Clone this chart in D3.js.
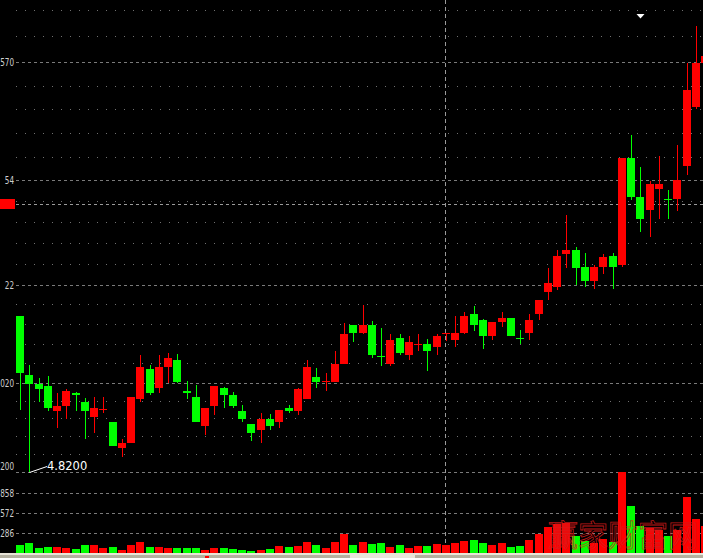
<!DOCTYPE html>
<html><head><meta charset="utf-8">
<script src="https://cdn.jsdelivr.net/npm/d3@7"></script>
<style>html,body{margin:0;padding:0;background:#000;overflow:hidden}</style>
</head><body><svg id="c" width="703" height="558"></svg>
<script>
// ---- data ----
const opens  = [5.138,5.018,5.000,4.996,4.944,4.955,4.981,4.963,4.932,4.947,4.922,4.869,4.879,4.969,5.030,4.991,5.034,5.049,4.985,4.973,4.914,4.955,4.991,4.977,4.944,4.918,4.906,4.928,4.922,4.951,4.944,4.969,5.014,5.004,5.004,5.040,5.120,5.104,5.120,5.057,5.040,5.093,5.059,5.081,5.081,5.075,5.102,5.089,5.104,5.142,5.130,5.098,5.126,5.134,5.093,5.104,5.142,5.187,5.198,5.265,5.273,5.238,5.210,5.238,5.261,5.242,5.461,5.381,5.355,5.398,5.377,5.377,5.445,5.565,5.655];
const highs  = [5.138,5.038,5.012,5.016,4.981,4.989,4.983,4.971,4.973,4.973,4.922,4.887,4.973,5.059,5.038,5.059,5.063,5.061,5.006,4.998,4.951,4.996,4.994,4.983,4.957,4.918,4.940,4.938,4.947,4.957,4.991,5.049,5.032,5.022,5.067,5.124,5.120,5.161,5.128,5.114,5.102,5.102,5.098,5.102,5.091,5.102,5.103,5.138,5.147,5.159,5.132,5.126,5.147,5.134,5.110,5.142,5.171,5.236,5.273,5.344,5.279,5.267,5.242,5.265,5.267,5.461,5.508,5.442,5.414,5.465,5.396,5.487,5.655,5.730,5.669];
const lows   = [4.947,4.820,4.963,4.944,4.910,4.928,4.944,4.887,4.900,4.940,4.873,4.851,4.879,4.963,4.977,4.981,5.002,5.002,4.969,4.922,4.896,4.936,4.951,4.951,4.922,4.883,4.879,4.906,4.910,4.940,4.936,4.969,4.991,4.985,5.004,5.040,5.085,5.102,5.053,5.036,5.036,5.059,5.049,5.067,5.026,5.059,5.087,5.075,5.102,5.108,5.071,5.089,5.116,5.098,5.081,5.089,5.130,5.171,5.191,5.236,5.202,5.198,5.193,5.224,5.193,5.238,5.375,5.310,5.300,5.336,5.336,5.353,5.426,5.561,5.655];
const closes = [5.022,5.000,4.989,4.951,4.955,4.985,4.977,4.944,4.951,4.948,4.873,4.879,4.973,5.034,4.981,5.034,5.053,5.004,4.981,4.922,4.951,4.996,4.977,4.955,4.928,4.900,4.928,4.914,4.947,4.944,4.989,5.034,5.004,5.005,5.040,5.102,5.104,5.120,5.059,5.056,5.089,5.063,5.085,5.082,5.067,5.098,5.103,5.104,5.138,5.120,5.098,5.126,5.134,5.098,5.091,5.130,5.171,5.206,5.261,5.273,5.236,5.210,5.238,5.259,5.238,5.461,5.381,5.336,5.408,5.408,5.376,5.416,5.600,5.655,5.669];
const volumes = [114,143,72,86,86,72,57,114,114,72,86,43,114,157,86,86,72,72,72,72,43,72,72,57,43,29,43,57,100,86,100,157,114,72,157,272,114,157,129,143,86,114,72,100,100,129,114,143,172,186,143,114,143,86,100,186,272,372,415,429,243,172,143,200,157,1158,672,386,357,329,243,329,801,486,386];
const days = opens.map((_, i) => "D" + (i + 1));
const priceTicks  = [4.8200, 5.0020, 5.2022, 5.4154, 5.6570, 5.9220];
// tick labels as far as the window edge lets them be seen
const priceTickLabels = ["200", "020", "22", "54", "570", ""];
const volumeTicks = [286, 572, 858];
const volumeTickLabels = ["286", "572", "858"];
const crossIndex = 46, crossPrice = 5.367;
const markerIndex = 67;
const watermark = "赢家财富网";

// ---- drawing ----
const W = 703, H = 558;
const svg = d3.select('#c').attr('shape-rendering', 'crispEdges');
svg.append('rect').attr('width', W).attr('height', H).attr('fill', '#000');

const N = opens.length;
const x = d3.scaleLinear().domain([0, N - 1]).range([16, 16 + 9.26 * (N - 1)]);
const y = d3.scaleLinear().domain([4.82, 5.7833]).range([472, 0]);
const yv = d3.scaleLinear().domain([0, 1144]).range([553, 473]);
const bx = i => Math.round(x(i));
const up = i => closes[i] >= opens[i];
const col = i => up(i) ? '#ff0000' : '#00ff00';

// minor dotted gridlines: 5 subdivisions of every major interval
const minors = [];
for (let k = 0; k < priceTicks.length - 1; k++) {
  const a = priceTicks[k], b = priceTicks[k + 1];
  for (let j = 1; j < 5; j++) minors.push(a + (b - a) * j / 5);
}
const grid = svg.append('g');
grid.selectAll('.mn').data(minors.filter(v => y(v) > 0)).join('line')
  .attr('x1', 16).attr('x2', W)
  .attr('y1', v => Math.round(y(v)) + 0.5).attr('y2', v => Math.round(y(v)) + 0.5)
  .attr('stroke', '#707070').attr('stroke-dasharray', '1,8');
grid.selectAll('.mj').data(priceTicks.filter(v => y(v) > 0)).join('line')
  .attr('x1', 16).attr('x2', W)
  .attr('y1', v => Math.round(y(v)) + 0.5).attr('y2', v => Math.round(y(v)) + 0.5)
  .attr('stroke', '#7a7a7a').attr('stroke-dasharray', '3,3');
grid.selectAll('.vj').data(volumeTicks).join('line')
  .attr('x1', 16).attr('x2', W)
  .attr('y1', v => Math.round(yv(v)) + 0.5).attr('y2', v => Math.round(yv(v)) + 0.5)
  .attr('stroke', '#7a7a7a').attr('stroke-dasharray', '3,3');

// crosshair
const cx = bx(crossIndex) + 3;
const cy = Math.round(y(crossPrice));
svg.append('line').attr('x1', cx + 0.5).attr('x2', cx + 0.5).attr('y1', 0).attr('y2', 553)
  .attr('stroke', '#9a9a9a').attr('stroke-dasharray', '4,3');
svg.append('line').attr('x1', 16).attr('x2', W).attr('y1', cy + 0.5).attr('y2', cy + 0.5)
  .attr('stroke', '#9a9a9a').attr('stroke-dasharray', '3,3');
svg.append('rect').attr('x', 0).attr('y', cy - 5).attr('width', 15).attr('height', 10).attr('fill', '#ff0000');

// candles
const cg = svg.append('g');
const idx = d3.range(N);
cg.selectAll('.wick').data(idx).join('rect')
  .attr('x', i => bx(i) + 4).attr('width', 1)
  .attr('y', i => Math.round(y(highs[i])))
  .attr('height', i => Math.max(1, Math.round(y(lows[i])) - Math.round(y(highs[i]))))
  .attr('fill', col);
cg.selectAll('.body').data(idx).join('rect')
  .attr('x', i => bx(i)).attr('width', 8)
  .attr('y', i => Math.round(y(Math.max(opens[i], closes[i]))))
  .attr('height', i => Math.max(1, Math.round(y(Math.min(opens[i], closes[i]))) - Math.round(y(Math.max(opens[i], closes[i])))))
  .attr('fill', col);

// volume bars
svg.append('g').selectAll('rect').data(idx).join('rect')
  .attr('x', i => bx(i)).attr('width', 8)
  .attr('y', i => Math.round(yv(volumes[i])))
  .attr('height', i => 553 - Math.round(yv(volumes[i])))
  .attr('fill', col);

// watermark
svg.append('text').attr('x', 548).attr('y', 546).text(watermark)
  .attr('font-family', '"Noto Sans CJK SC"').attr('font-size', 30)
  .attr('fill', 'none').attr('stroke', '#d81e1e').attr('stroke-width', 0.8)
  .attr('shape-rendering', 'auto').attr('opacity', 0.85);

// axis labels (left side)
const lab = svg.append('g').attr('font-family', '"DejaVu Sans"').attr('font-size', 11)
  .attr('fill', '#cfcfcf').attr('text-anchor', 'end');
priceTicks.forEach((v, k) => {
  if (y(v) <= 0 || !priceTickLabels[k]) return;
  const yy = Math.min(Math.round(y(v)), 466);
  lab.append('text').attr('transform', `translate(14,${yy + 4}) scale(0.66,1)`).text(priceTickLabels[k]);
});
volumeTicks.forEach((v, k) => {
  lab.append('text').attr('transform', `translate(14,${Math.round(yv(v)) + 4}) scale(0.66,1)`).text(volumeTickLabels[k]);
});

// lowest-low annotation
const minLow = d3.min(lows), li = lows.indexOf(minLow);
const lx = bx(li) + 4, ly = Math.round(y(minLow));
svg.append('path').attr('d', `M${lx + 0.5},${ly + 0.5}L${lx + 18},${ly - 5.5}`)
  .attr('stroke', '#fff').attr('fill', 'none').attr('shape-rendering', 'auto');
svg.append('text').attr('x', lx + 18).attr('y', ly - 2).text(minLow.toFixed(4))
  .attr('font-family', '"DejaVu Sans"').attr('font-size', 11.5).attr('fill', '#fff');

// signal marker
const mx = bx(markerIndex) + 4.5;
svg.append('path').attr('d', `M${mx - 4},14L${mx + 4},14L${mx},18.5Z`).attr('fill', '#fff').attr('shape-rendering', 'auto');

// bottom strip
svg.append('rect').attr('x', 0).attr('y', 553).attr('width', W).attr('height', 2).attr('fill', '#e8e4d8');
svg.append('rect').attr('x', 0).attr('y', 555).attr('width', W).attr('height', 3).attr('fill', '#b4b0a0');
svg.append('rect').attr('x', 350).attr('y', 555).attr('width', 65).attr('height', 3).attr('fill', '#e8e4d8');
svg.append('rect').attr('x', 205).attr('y', 556).attr('width', 4).attr('height', 2).attr('fill', '#ff0000');
</script></body></html>
